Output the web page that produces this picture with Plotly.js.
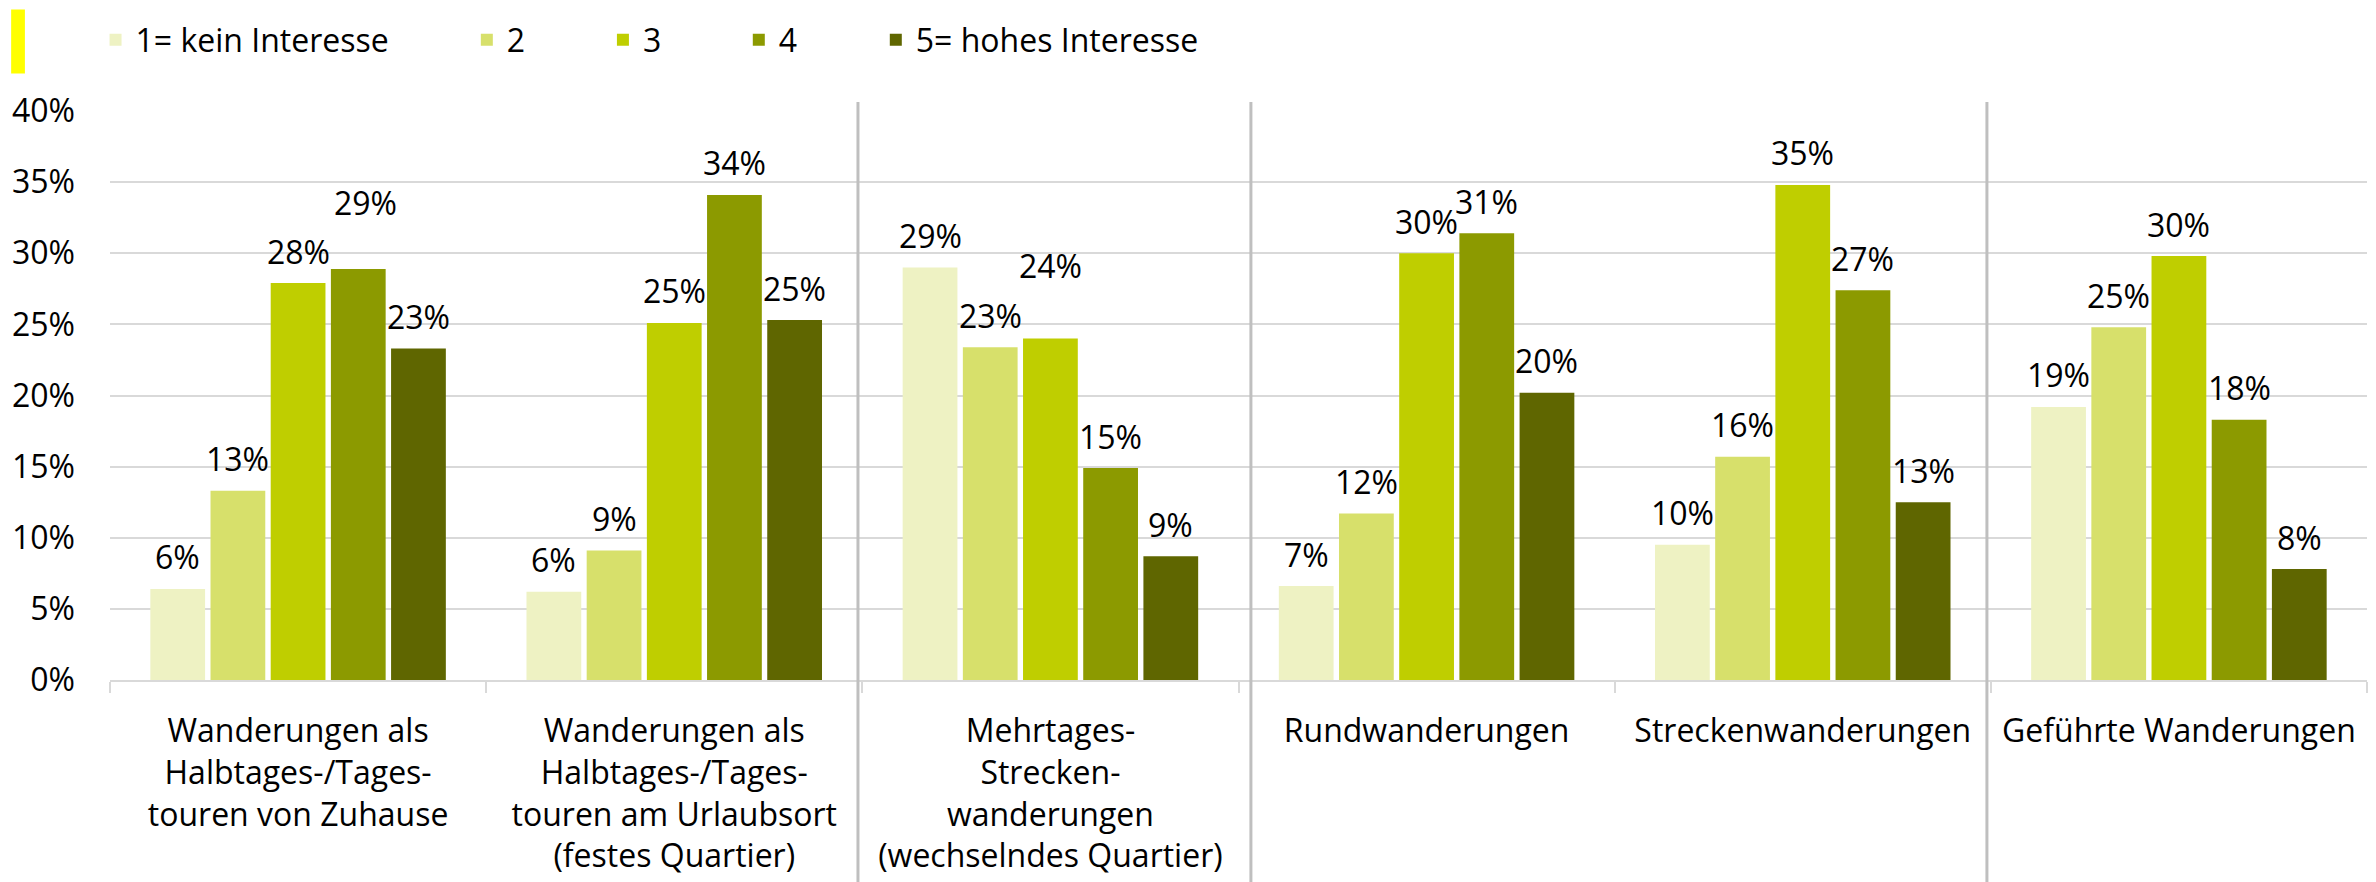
<!DOCTYPE html>
<html>
<head>
<meta charset="utf-8">
<script src="https://cdn.plot.ly/plotly-3.0.1.min.js"></script>
<style>
html, body { margin: 0; padding: 0; background: #ffffff; }
#chart { width: 2376px; height: 882px; }
</style>
</head>
<body>
<div id="chart"></div>
<script>
// ---- data ----
const categories = [
  "Wanderungen als<br>Halbtages-/Tages-<br>touren von Zuhause",
  "Wanderungen als<br>Halbtages-/Tages-<br>touren am Urlaubsort<br>(festes Quartier)",
  "Mehrtages-<br>Strecken-<br>wanderungen<br>(wechselndes Quartier)",
  "Rundwanderungen",
  "Streckenwanderungen",
  "Geführte Wanderungen"
];
const seriesNames = ["1= kein Interesse", "2", "3", "4", "5= hohes Interesse"];
const interest1 = [6.4, 6.2, 29.0, 6.6, 9.5, 19.2];
const interest2 = [13.3, 9.1, 23.4, 11.7, 15.7, 24.8];
const interest3 = [27.9, 25.1, 24.0, 30.0, 34.8, 29.8];
const interest4 = [28.9, 34.1, 14.9, 31.4, 27.4, 18.3];
const interest5 = [23.3, 25.3, 8.7, 20.2, 12.5, 7.8];
const yTickValues = [0, 5, 10, 15, 20, 25, 30, 35, 40];

// ---- styles ----
const seriesValues = [interest1, interest2, interest3, interest4, interest5];
const colors = ["#EEF2C3", "#D7E06B", "#BFCE00", "#8C9A00", "#5F6600"];
const FONT = "Open Sans, Liberation Sans, DejaVu Sans, sans-serif";
const FS = 32;
const BARGAP = 0.2;
const BARGROUPGAP = 0.09;
// label nudges (px) for a few manually moved labels: key "category-series"
const labelNudge = { "0-3": { dx: 7, dy: 34 }, "2-2": { dx: 0, dy: 41 } };

const legendKeys = ["legend", "legend2", "legend3", "legend4", "legend5"];
const legendX = [-0.0064, 0.1581, 0.2184, 0.2786, 0.3393];

const traces = seriesValues.map((vals, i) => ({
  type: "bar",
  name: seriesNames[i],
  x: categories,
  y: vals,
  marker: { color: colors[i], line: { width: 0 } },
  legend: legendKeys[i],
  hoverinfo: "skip"
}));

const slot = (1 - BARGAP) / seriesValues.length;
const annotations = [];
seriesValues.forEach((vals, i) => {
  vals.forEach((v, j) => {
    const n = labelNudge[j + "-" + i] || { dx: 0, dy: 0 };
    annotations.push({
      x: j + (i - (seriesValues.length - 1) / 2) * slot,
      y: v,
      xref: "x", yref: "y",
      text: Math.round(v) + "%",
      showarrow: false,
      xanchor: "center", yanchor: "middle",
      xshift: n.dx,
      yshift: 32 + n.dy,
      font: { family: FONT, size: FS, color: "#000000" }
    });
  });
});

const shapes = [];
// vertical separators between category blocks
[0.3314, 0.5055, 0.8316].forEach(px => {
  shapes.push({
    type: "line", xref: "paper", yref: "paper",
    x0: px, x1: px, y0: -0.36, y1: 1.016,
    line: { color: "#BFBFBF", width: 3 }
  });
});
// yellow accent bar at top left
shapes.push({
  type: "rect", xref: "paper", yref: "paper",
  x0: -0.0438, x1: -0.0377, y0: 1.066, y1: 1.1785,
  fillcolor: "#FFFF00", line: { width: 0 }
});

const layout = {
  width: 2376, height: 882,
  margin: { l: 110, r: 9, t: 111, b: 202, pad: 0 },
  paper_bgcolor: "#ffffff", plot_bgcolor: "#ffffff",
  barmode: "group",
  bargap: BARGAP,
  bargroupgap: BARGROUPGAP,
  font: { family: FONT, size: FS, color: "#000000" },
  xaxis: {
    type: "category",
    tickson: "boundaries",
    ticks: "outside",
    ticklen: 11,
    tickwidth: 2,
    tickcolor: "#D9D9D9",
    showline: true,
    linecolor: "#D9D9D9",
    linewidth: 2,
    showgrid: false,
    ticklabelstandoff: 22,
    tickfont: { family: FONT, size: FS, color: "#000000" },
    fixedrange: true
  },
  yaxis: {
    range: [0, 40],
    tickvals: yTickValues,
    ticktext: yTickValues.map(v => v + "%"),
    showgrid: true,
    gridcolor: "#D9D9D9",
    gridwidth: 2,
    zeroline: false,
    showline: false,
    ticks: "",
    ticklabelstandoff: 34,
    tickfont: { family: FONT, size: FS, color: "#000000" },
    fixedrange: true
  },
  annotations: annotations,
  shapes: shapes,
  showlegend: true
};
legendKeys.forEach((k, i) => {
  layout[k] = {
    orientation: "h",
    x: legendX[i], xref: "paper", xanchor: "left",
    y: 1.1249, yref: "paper", yanchor: "middle",
    bgcolor: "rgba(0,0,0,0)",
    borderwidth: 0,
    font: { family: FONT, size: FS, color: "#000000" }
  };
});

Plotly.newPlot("chart", traces, layout, { displayModeBar: false, staticPlot: true });
</script>
</body>
</html>
